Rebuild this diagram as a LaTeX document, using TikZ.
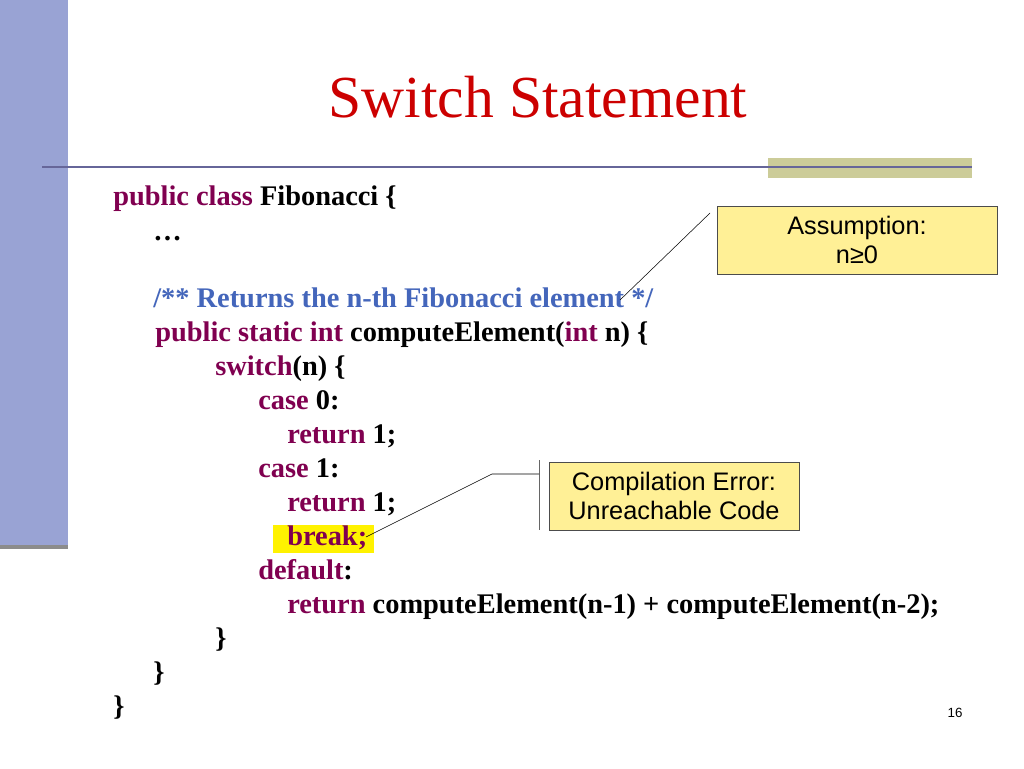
\documentclass[tikz,border=0pt]{standalone}
\usepackage{fontspec}
\setmainfont{Liberation Serif}
\newfontfamily\sans{Liberation Sans}
\definecolor{kw}{RGB}{128,0,80}
\definecolor{cm}{RGB}{68,102,187}
\definecolor{barc}{RGB}{153,163,212}
\definecolor{olive}{RGB}{204,204,153}
\definecolor{rulec}{RGB}{102,102,153}
\definecolor{titlec}{RGB}{204,0,0}
\definecolor{boxc}{RGB}{255,240,150}
\begin{document}
\begin{tikzpicture}[x=0.75pt,y=-0.75pt,
  code/.style={anchor=base west,inner sep=0pt,font=\fontsize{21.3}{24}\selectfont\bfseries},
  callout/.style={draw=black!70,fill=boxc,font=\sans\fontsize{19}{22}\selectfont,align=center,inner sep=0pt}]
\useasboundingbox (0,0) rectangle (1024,768);
\fill[white] (0,0) rectangle (1024,768);
\fill[black!45] (0,543) rectangle (68,549);
\fill[barc] (0,0) rectangle (68,545);
\fill[olive] (768,158) rectangle (972,178);
\draw[rulec,line width=2pt] (42,167) -- (972,167);
\node[anchor=base,text=titlec,font=\fontsize{44.7}{48}\selectfont] (title) at (538,117) {Switch Statement};
\fill[yellow] (273,525) rectangle (374,553);
\node[code] (l1) at (113,205) {\textcolor{kw}{public class} Fibonacci \{};
\node[code] (l2) at (153,240) {\dots};
\node[code] (l3) at (153,307) {\textcolor{cm}{/** Returns the n-th Fibonacci element */}};
\node[code] (l4) at (155,341) {\textcolor{kw}{public static int} computeElement(\textcolor{kw}{int} n) \{};
\node[code] (l5) at (215,375) {\textcolor{kw}{switch}(n) \{};
\node[code] (l6) at (258,409) {\textcolor{kw}{case} 0:};
\node[code] (l7) at (287,443) {\textcolor{kw}{return} 1;};
\node[code] (l8) at (258,477) {\textcolor{kw}{case} 1:};
\node[code] (l9) at (287,511) {\textcolor{kw}{return} 1;};
\node[code] (l10) at (287,545) {\textcolor{kw}{break;}};
\node[code] (l11) at (258,579) {\textcolor{kw}{default}:};
\node[code] (l12) at (287,613) {\textcolor{kw}{return} computeElement(n-1) + computeElement(n-2);};
\node[code] (l13) at (215,647) {\}};
\node[code] (l14) at (153,681) {\}};
\node[code] (l15) at (113,715) {\}};
\node[callout,minimum width=210pt,minimum height=51pt] (a) at (857,240) {Assumption:\\n≥0};
\node[callout,minimum width=187.5pt,minimum height=51pt] (c) at (674,496) {Compilation Error:\\Unreachable Code};
\coordinate (ap) at (620,300);
\draw (710,213) -- (ap);
\draw[black!60] (539,460) -- (539,530);
\coordinate (bp) at (366,537);
\draw (539,474) -- (492,474) -- (bp);
\node[font=\sans\fontsize{10}{12}\selectfont] (pg) at (955,713) {16};
\end{tikzpicture}
\end{document}
